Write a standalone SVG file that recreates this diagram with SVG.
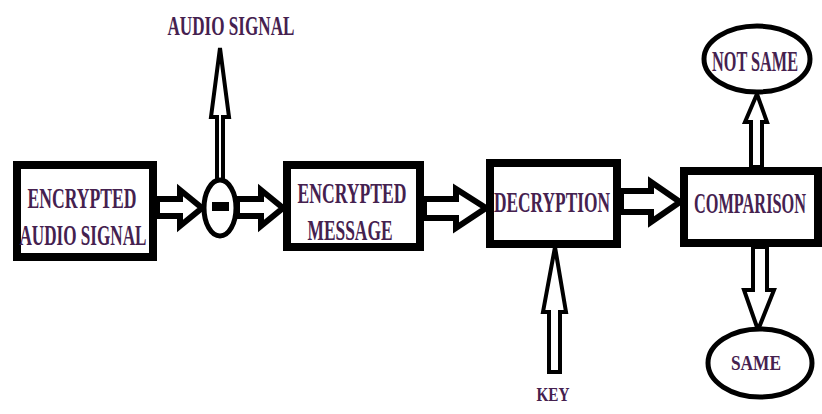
<svg xmlns="http://www.w3.org/2000/svg" width="822" height="414" viewBox="0 0 822 414">
<style>
.box{fill:#fff;stroke:#000;stroke-width:8}
.ell{fill:#fff;stroke:#000;stroke-width:5}
.arr{fill:#fff;stroke:#000;stroke-width:6;stroke-linejoin:miter}
.arrv{fill:#fff;stroke:#000;stroke-width:4;stroke-linejoin:miter}
.t{font-family:'Liberation Serif','Times New Roman',serif;font-weight:bold;fill:#45214f;text-anchor:middle}
</style>
<rect width="822" height="414" fill="#fff"/>
<g id="connectors">
<polygon class="arr" points="157,199 180,199 180,190 202,208 180,226 180,216 157,216"/>
<polygon class="arr" points="237,199 261,199 261,190 283,208 261,226 261,216 237,216"/>
<polygon class="arr" points="424,199 456,199 456,189 486,208 456,228 456,218 424,218"/>
<polygon class="arr" points="621,191 651,191 651,182 680,202 651,222 651,212 621,212"/>
<polygon class="arrv" points="217,180 217,117 211,117 220,48 229,117 223,117 223,180"/>
<polygon class="arrv" points="751,167 751,122 745,122 757,94 767,122 762,122 762,167"/>
<polygon class="arrv" points="753,247 753,290 744,290 758,330 774,290 767,290 767,247"/>
<polygon class="arrv" points="549,372 549,312 543,312 555,247 566,312 560,312 560,372"/>
</g>
<g id="n-encrypted-audio">
<rect class="box" x="17" y="165" width="136" height="92"/>
<text class="t" x="82" y="208" font-family="Liberation Serif, serif" font-size="30" textLength="109" lengthAdjust="spacingAndGlyphs">ENCRYPTED</text>
<text class="t" x="83" y="245" font-family="Liberation Serif, serif" font-size="30" textLength="127" lengthAdjust="spacingAndGlyphs">AUDIO SIGNAL</text>
</g>
<g id="n-minus">
<ellipse class="ell" cx="220" cy="208" rx="16" ry="28"/>
<rect x="212" y="202" width="17" height="9" fill="#000"/>
</g>
<g id="n-audio-signal">
<text class="t" x="231" y="35" font-family="Liberation Serif, serif" font-size="27" textLength="127" lengthAdjust="spacingAndGlyphs">AUDIO SIGNAL</text>
</g>
<g id="n-encrypted-message">
<rect class="box" x="287" y="165" width="133" height="82"/>
<text class="t" x="352" y="203" font-family="Liberation Serif, serif" font-size="30" textLength="109" lengthAdjust="spacingAndGlyphs">ENCRYPTED</text>
<text class="t" x="350" y="240" font-family="Liberation Serif, serif" font-size="30" textLength="85" lengthAdjust="spacingAndGlyphs">MESSAGE</text>
</g>
<g id="n-decryption">
<rect class="box" x="490" y="163" width="127" height="81"/>
<text class="t" x="552" y="212" font-family="Liberation Serif, serif" font-size="30" textLength="116" lengthAdjust="spacingAndGlyphs">DECRYPTION</text>
</g>
<g id="n-key">
<text class="t" x="553" y="401" font-family="Liberation Serif, serif" font-size="19" textLength="33" lengthAdjust="spacingAndGlyphs">KEY</text>
</g>
<g id="n-comparison">
<rect class="box" x="684" y="171" width="134" height="72"/>
<text class="t" x="750" y="213" font-family="Liberation Serif, serif" font-size="30" textLength="112" lengthAdjust="spacingAndGlyphs">COMPARISON</text>
</g>
<g id="n-not-same">
<ellipse class="ell" cx="757" cy="59" rx="53" ry="33"/>
<text class="t" x="755" y="71" font-family="Liberation Serif, serif" font-size="29" textLength="86" lengthAdjust="spacingAndGlyphs">NOT SAME</text>
</g>
<g id="n-same">
<ellipse class="ell" cx="760" cy="363" rx="52" ry="34"/>
<text class="t" x="756" y="370" font-family="Liberation Serif, serif" font-size="22" textLength="50" lengthAdjust="spacingAndGlyphs">SAME</text>
</g>
</svg>
